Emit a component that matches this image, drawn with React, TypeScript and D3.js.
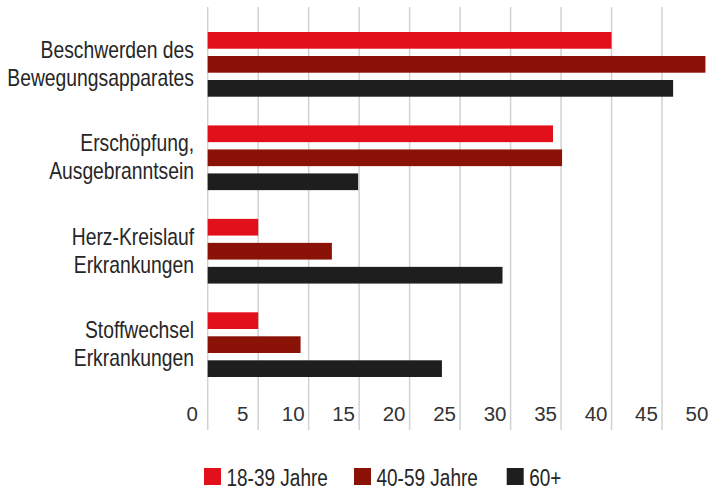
import React from 'react';
import * as d3 from 'd3';

const categories = [
  ['Beschwerden des', 'Bewegungsapparates'],
  ['Erschöpfung,', 'Ausgebranntsein'],
  ['Herz-Kreislauf', 'Erkrankungen'],
  ['Stoffwechsel', 'Erkrankungen'],
];
const seriesNames = ['18-39 Jahre', '40-59 Jahre', '60+'];
const seriesColors = ['#e1101a', '#8b1206', '#1e1e1e'];

const young = [40, 34.2, 5, 5];
const middle = [49.3, 35.1, 12.3, 9.2];
const old = [46.1, 14.9, 29.2, 23.2];
const seriesValues = [young, middle, old];

const xTicks = [0, 5, 10, 15, 20, 25, 30, 35, 40, 45, 50];

const W = 710;
const H = 490;

const font = '"Liberation Sans", Arial, sans-serif';
// the reference uses a condensed face; squeeze a regular one horizontally
const narrow = 0.826;

export default function App() {
  const keys = categories.map((c) => c.join(' '));

  const x = d3.scaleLinear().domain([0, 50]).range([207.7, 712.5]);
  const y = d3.scaleBand<string>().domain(keys).range([32, 377]).paddingInner(0.3075).paddingOuter(0);
  const ySub = d3
    .scaleBand<string>()
    .domain(seriesNames)
    .range([0, y.bandwidth()])
    .paddingInner(0.304)
    .paddingOuter(0);

  const legendX = [204, 354, 506.7];

  return (
    <svg width={W} height={H} style={{ position: 'absolute', left: 0, top: 0, background: '#fff' }}>
      {/* gridlines */}
      <g>
        {xTicks.map((t) => (
          <line key={t} x1={x(t)} x2={x(t)} y1={7} y2={430} stroke="#d2d2d2" strokeWidth={1.5} />
        ))}
      </g>

      {/* bars */}
      {keys.map((k, ci) => (
        <g key={k} transform={`translate(0,${y(k)})`}>
          {seriesNames.map((s, si) => (
            <rect
              key={s}
              x={x(0)}
              y={ySub(s)}
              width={x(seriesValues[si][ci]) - x(0)}
              height={ySub.bandwidth()}
              fill={seriesColors[si]}
            />
          ))}
        </g>
      ))}

      {/* category labels */}
      {categories.map((lines, ci) => {
        const cy = (y(keys[ci]) ?? 0) + y.bandwidth() / 2;
        return (
          <g key={ci} transform={`translate(194,${cy}) scale(0.84,1)`}>
            <text textAnchor="end" fontFamily={font} fontSize={23} fill="#262626">
              <tspan x={0} y={-6.5}>{lines[0]}</tspan>
              <tspan x={0} y={21.7}>{lines[1]}</tspan>
            </text>
          </g>
        );
      })}

      {/* x tick labels */}
      {xTicks.map((t) => (
        <text
          key={t}
          x={x(t) - 15.5}
          y={421}
          textAnchor="middle"
          fontFamily={font}
          fontSize={20.5}
          fill="#333"
        >
          {t}
        </text>
      ))}

      {/* legend */}
      {seriesNames.map((s, i) => (
        <g key={s} transform={`translate(${legendX[i]},468)`}>
          <rect x={0} y={0} width={17} height={17} fill={seriesColors[i]} />
          <g transform={`translate(22.5,17.5) scale(${narrow},1)`}>
            <text x={0} y={0} fontFamily={font} fontSize={23} fill="#262626">
              {s}
            </text>
          </g>
        </g>
      ))}
    </svg>
  );
}
